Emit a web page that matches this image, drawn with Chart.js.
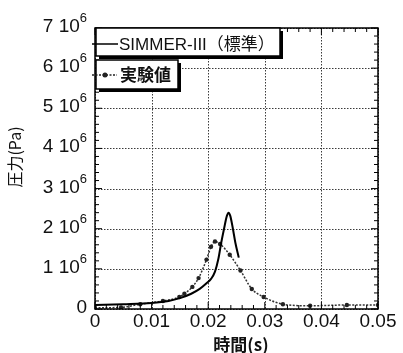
<!DOCTYPE html>
<html>
<head>
<meta charset="utf-8">
<script src="https://cdn.jsdelivr.net/npm/chart.js@4/dist/chart.umd.min.js"></script>
<style>
  html, body { margin: 0; padding: 0; background: #fff; }
  canvas { display: block; }
</style>
</head>
<body>
<canvas id="pressureChart" width="403" height="353"></canvas>
<script>
// SIMMER-III (標準) : time [s], pressure [Pa]
const simTime = [0, 0.005, 0.01, 0.013, 0.015, 0.017, 0.0185, 0.0197, 0.0205, 0.0212, 0.0218, 0.0223, 0.0228, 0.0233, 0.0236, 0.0239, 0.0243, 0.0248, 0.0254];
const simPressure = [1.0e5, 1.2e5, 1.5e5, 2.0e5, 2.7e5, 3.8e5, 5.0e5, 6.4e5, 7.5e5, 9.3e5, 1.25e6, 1.65e6, 2.0e6, 2.32e6, 2.4e6, 2.32e6, 2.05e6, 1.65e6, 1.28e6];

// 実験値 : time [s], pressure [Pa]
const expTime = [0, 0.0046, 0.008, 0.012, 0.0149, 0.0158, 0.0172, 0.0183, 0.0197, 0.0205, 0.0212, 0.0221, 0.0238, 0.0257, 0.0277, 0.0298, 0.0332, 0.038, 0.0445, 0.05];
const expPressure = [3e4, 4e4, 1.2e5, 2.0e5, 3.0e5, 3.8e5, 5.5e5, 7.7e5, 1.23e6, 1.55e6, 1.68e6, 1.62e6, 1.35e6, 9.6e5, 5.0e5, 3.0e5, 1.2e5, 8e4, 1.0e5, 1.0e5];

const xTicks = [0, 0.01, 0.02, 0.03, 0.04, 0.05];
const xTickLabels = ['0', '0.01', '0.02', '0.03', '0.04', '0.05'];
const yTicks = [0, 1e6, 2e6, 3e6, 4e6, 5e6, 6e6, 7e6];
const yTickLabels = ['0', '1', '2', '3', '4', '5', '6', '7'];

const seriesNames = ['SIMMER-III（標準）', '実験値'];
const xTitle = '時間(s)';
const yTitle = '圧力(Pa)';

const latinFont = "'Liberation Sans', 'Noto Sans CJK JP', sans-serif";
const cjkFont = "'Noto Sans CJK JP', 'Liberation Sans', sans-serif";

const decor = {
  id: 'decor',
  beforeDatasetsDraw(chart) {
    const { ctx, chartArea: a, scales: { x, y } } = chart;
    ctx.save();
    ctx.strokeStyle = '#3a3a3a';
    ctx.lineWidth = 1;
    ctx.setLineDash([1.5, 1.5]);
    xTicks.forEach(v => {
      const px = Math.round(x.getPixelForValue(v)) + 0.5;
      ctx.beginPath(); ctx.moveTo(px, a.top); ctx.lineTo(px, a.bottom); ctx.stroke();
    });
    yTicks.forEach(v => {
      const py = Math.round(y.getPixelForValue(v)) + 0.5;
      ctx.beginPath(); ctx.moveTo(a.left, py); ctx.lineTo(a.right, py); ctx.stroke();
    });
    ctx.restore();
  },
  afterDatasetsDraw(chart) {
    const { ctx, chartArea: a, scales: { x, y } } = chart;
    ctx.save();

    // frame
    ctx.strokeStyle = '#000';
    ctx.lineWidth = 1.5;
    ctx.strokeRect(a.left, a.top, a.right - a.left, a.bottom - a.top);

    // inside ticks, 5 minor steps per major
    ctx.lineWidth = 1;
    for (let i = 0; i <= 25; i++) {
      const px = x.getPixelForValue(i * 0.002);
      const len = i % 5 === 0 ? 7 : 4;
      ctx.beginPath();
      ctx.moveTo(px, a.bottom); ctx.lineTo(px, a.bottom - len);
      ctx.moveTo(px, a.top); ctx.lineTo(px, a.top + len);
      ctx.stroke();
    }
    for (let i = 0; i <= 35; i++) {
      const py = y.getPixelForValue(i * 2e5);
      const len = i % 5 === 0 ? 7 : 4;
      ctx.beginPath();
      ctx.moveTo(a.left, py); ctx.lineTo(a.left + len, py);
      ctx.moveTo(a.right, py); ctx.lineTo(a.right - len, py);
      ctx.stroke();
    }

    // y tick labels with superscript exponent
    ctx.fillStyle = '#111';
    ctx.textBaseline = 'alphabetic';
    yTicks.forEach((v, i) => {
      const py = y.getPixelForValue(v);
      const right = a.left - 8;
      if (yTickLabels[i] === '0') {
        ctx.font = `19px ${latinFont}`;
        ctx.textAlign = 'right';
        ctx.fillText('0', right, py + 4);
        return;
      }
      ctx.font = `13px ${latinFont}`;
      const supW = ctx.measureText('6').width;
      ctx.textAlign = 'left';
      ctx.fillText('6', right - supW, py - 6);
      ctx.font = `19px ${latinFont}`;
      ctx.textAlign = 'right';
      ctx.fillText(`${yTickLabels[i]} 10`, right - supW, py + 4);
    });

    // x tick labels
    ctx.font = `19px ${latinFont}`;
    ctx.textAlign = 'center';
    xTicks.forEach((v, i) => {
      ctx.fillText(xTickLabels[i], x.getPixelForValue(v), a.bottom + 18);
    });

    // axis titles
    ctx.font = `bold 17px ${cjkFont}`;
    ctx.textAlign = 'center';
    ctx.fillText(xTitle, 241, a.bottom + 42);
    ctx.save();
    ctx.translate(15, 157);
    ctx.rotate(-Math.PI / 2);
    ctx.font = `16px ${cjkFont}`;
    ctx.textBaseline = 'middle';
    ctx.fillText(yTitle, 0, 0);
    ctx.restore();

    // legend boxes with drop shadow
    const box = (x1, y1, x2, y2) => {
      ctx.fillStyle = '#000';
      ctx.fillRect(x1 + 3, y1 + 3, x2 - x1, y2 - y1);
      ctx.fillStyle = '#fff';
      ctx.fillRect(x1, y1, x2 - x1, y2 - y1);
      ctx.strokeStyle = '#000';
      ctx.lineWidth = 1.5;
      ctx.strokeRect(x1, y1, x2 - x1, y2 - y1);
    };
    box(a.left + 1, a.top, 280, 56);
    box(a.left + 1, 60, 178, 89);

    ctx.strokeStyle = '#000';
    ctx.lineWidth = 1.5;
    ctx.beginPath(); ctx.moveTo(92, 44); ctx.lineTo(118, 44); ctx.stroke();
    ctx.strokeStyle = '#222';
    ctx.setLineDash([2, 1.5]);
    ctx.beginPath(); ctx.moveTo(92, 75); ctx.lineTo(117, 75); ctx.stroke();
    ctx.setLineDash([]);
    ctx.fillStyle = '#222';
    ctx.beginPath(); ctx.arc(105, 75, 2.5, 0, Math.PI * 2); ctx.fill();

    ctx.fillStyle = '#111';
    ctx.textAlign = 'left';
    ctx.textBaseline = 'alphabetic';
    ctx.font = `17px ${latinFont}`;
    ctx.fillText(seriesNames[0], 119, 50);
    ctx.font = `bold 17px ${cjkFont}`;
    ctx.fillText(seriesNames[1], 120, 81);

    ctx.restore();
  }
};

new Chart(document.getElementById('pressureChart').getContext('2d'), {
  type: 'line',
  data: {
    datasets: [
      {
        label: seriesNames[0],
        data: simTime.map((t, i) => ({ x: t, y: simPressure[i] })),
        borderColor: '#000',
        borderWidth: 2,
        pointRadius: 0,
        cubicInterpolationMode: 'monotone',
        fill: false
      },
      {
        label: seriesNames[1],
        data: expTime.map((t, i) => ({ x: t, y: expPressure[i] })),
        borderColor: '#333',
        borderWidth: 1.5,
        borderDash: [2, 1.5],
        pointRadius: 2.2,
        pointBackgroundColor: '#222',
        pointBorderWidth: 0,
        cubicInterpolationMode: 'monotone',
        fill: false
      }
    ]
  },
  options: {
    responsive: false,
    animation: false,
    layout: { padding: { left: 87, right: 25, top: 28, bottom: 36 } },
    plugins: { legend: { display: false }, tooltip: { enabled: false } },
    scales: {
      x: {
        type: 'linear', min: 0, max: 0.05,
        ticks: { display: false },
        grid: { display: false },
        border: { display: false }
      },
      y: {
        type: 'linear', min: 0, max: 7e6,
        ticks: { display: false },
        grid: { display: false },
        border: { display: false }
      }
    }
  },
  plugins: [decor]
});
</script>
</body>
</html>
